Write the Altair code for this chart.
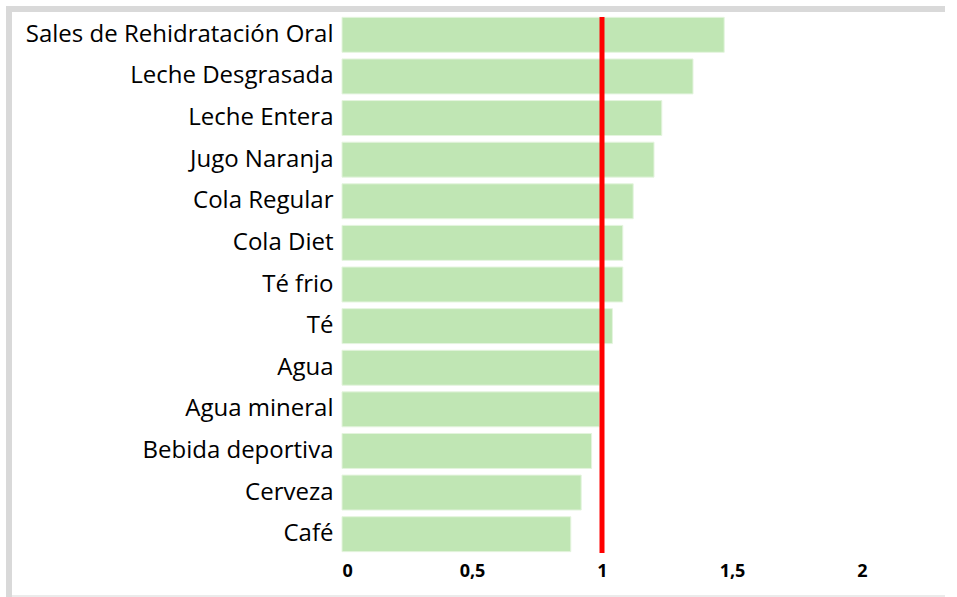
import altair as alt
import pandas as pd

categories = [
    "Sales de Rehidratación Oral",
    "Leche Desgrasada",
    "Leche Entera",
    "Jugo Naranja",
    "Cola Regular",
    "Cola Diet",
    "Té frio",
    "Té",
    "Agua",
    "Agua mineral",
    "Bebida deportiva",
    "Cerveza",
    "Café",
]
values = [1.47, 1.35, 1.23, 1.20, 1.12, 1.08, 1.08, 1.04, 0.99, 0.99, 0.96, 0.92, 0.88]
x_ticks = [0, 0.5, 1, 1.5, 2]
reference_value = 1

df = pd.DataFrame({"bebida": categories, "valor": values})

PLOT_W = 600
PLOT_H = 541
PAD_L = 342
PAD_T = 14
PAD_B = 42
TOTAL_W = PAD_L + PLOT_W + 3

x_scale = alt.Scale(domain=[0, 2.35 * PLOT_W / 611], nice=False, zero=True)

bars = alt.Chart(df).mark_bar(color="#c0e6b4", stroke="#e4f4de", strokeWidth=1).encode(
    y=alt.Y(
        "bebida:N",
        sort=categories,
        title=None,
        scale=alt.Scale(paddingInner=0.16, paddingOuter=0.08),
        axis=alt.Axis(
            ticks=False,
            domain=False,
            labelFont="Open Sans",
            labelFontSize=24,
            labelColor="#000000",
            labelPadding=9,
            labelLimit=400,
        ),
    ),
    x=alt.X(
        "valor:Q",
        scale=x_scale,
        title=None,
        axis=alt.Axis(
            values=x_ticks,
            labelExpr="replace(format(datum.value, '~g'), '.', ',')",
            ticks=False,
            domain=False,
            grid=False,
            labelFont="Open Sans",
            labelFontWeight="bold",
            labelFontSize=18,
            labelColor="#000000",
            labelPadding=7,
        ),
    ),
)

rule = alt.Chart(pd.DataFrame({"ref": [reference_value]})).mark_rule(
    color="#ff0000", strokeWidth=5
).encode(
    x=alt.X("ref:Q", scale=x_scale),
    y=alt.value(3),
    y2=alt.value(539),
)

top_border = alt.Chart(pd.DataFrame({"a": [0]})).mark_rule(
    color="#d9d9d9", strokeWidth=6
).encode(
    x=alt.value(6 - PAD_L),
    x2=alt.value(TOTAL_W - PAD_L),
    y=alt.value(9 - PAD_T),
)
left_border = alt.Chart(pd.DataFrame({"a": [0]})).mark_rule(
    color="#d9d9d9", strokeWidth=6
).encode(
    x=alt.value(9 - PAD_L),
    y=alt.value(6 - PAD_T),
    y2=alt.value(597 - PAD_T),
)
bottom_border = alt.Chart(pd.DataFrame({"a": [0]})).mark_rule(
    color="#ebebeb", strokeWidth=2
).encode(
    x=alt.value(12 - PAD_L),
    x2=alt.value(TOTAL_W - PAD_L),
    y=alt.value(596 - PAD_T),
)

chart = alt.layer(top_border, left_border, bottom_border, bars, rule).properties(
    width=PLOT_W,
    height=PLOT_H,
    autosize=alt.AutoSizeParams(type="none"),
    padding={"left": PAD_L, "top": PAD_T, "right": 3, "bottom": PAD_B},
    background="#ffffff",
).configure_view(stroke=None)

chart.save("out.html", embed_options={"renderer": "svg", "actions": False})
